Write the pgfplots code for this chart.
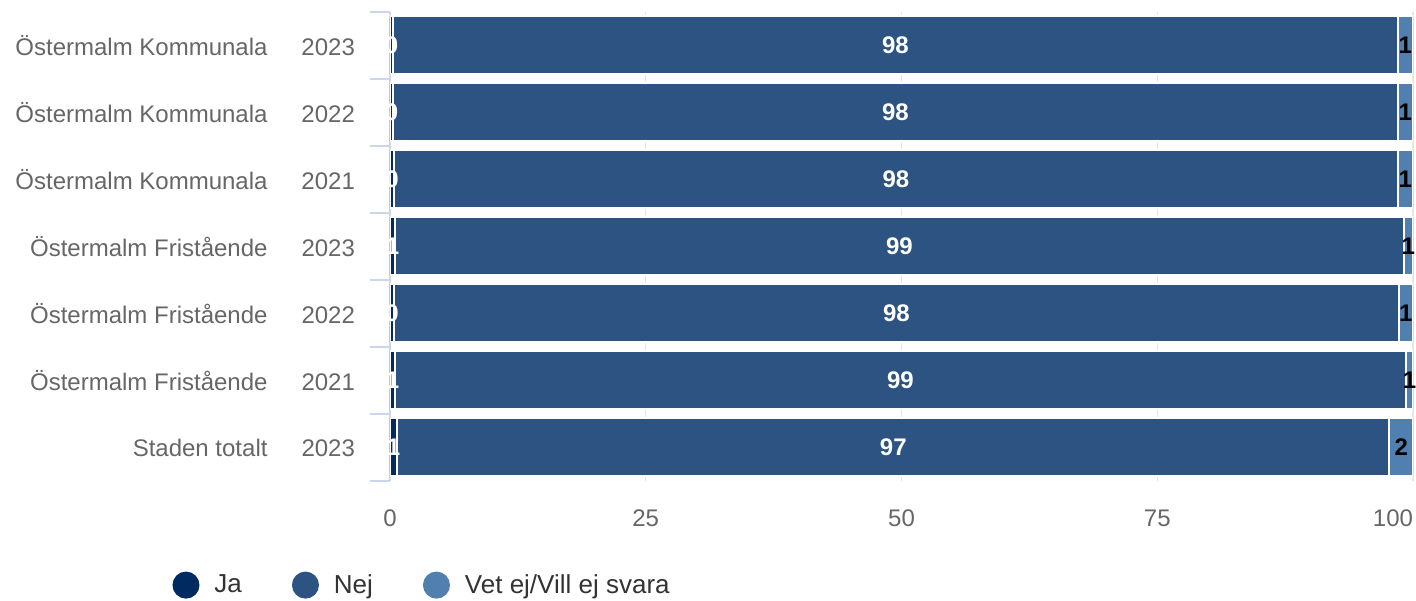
\documentclass[border=0pt]{standalone}
\usepackage{fontspec}
\setmainfont{Liberation Sans}
\usepackage{pgfplots}
\pgfplotsset{compat=1.18}
\usepackage{pgfplotstable}

\definecolor{ja}{RGB}{0,42,96}
\definecolor{nej}{RGB}{44,83,130}
\definecolor{vet}{RGB}{80,127,176}
\definecolor{tickgray}{RGB}{102,102,102}
\definecolor{legtext}{RGB}{51,51,51}
\definecolor{axisline}{RGB}{204,214,235}
\definecolor{gridgray}{RGB}{230,230,230}

% y: 6 = top row
\pgfplotstableread{
y ja nej vet lja lnej lvet
6 0.3 98.2 1.5 0 98 1
5 0.3 98.2 1.5 0 98 1
4 0.4 98.1 1.5 0 98 1
3 0.5 98.6 0.9 1 99 1
2 0.4 98.2 1.4 0 98 1
1 0.5 98.8 0.7 1 99 1
0 0.7 97.0 2.3 1 97 2
}\data

\pgfplotsset{
  base/.style={
    width=511.5pt, height=234.5pt, scale only axis,
    xmin=0, xmax=100, ymin=-0.5, ymax=6.5,
  },
  lbl/.style={draw=none, mark=none, nodes near coords, point meta=explicit symbolic,
    nodes near coords align={anchor=center},
    every node near coord/.append style={font=\fontsize{12}{14}\selectfont\bfseries,
      inner sep=0pt, text=#1}},
}

\begin{document}
\begin{tikzpicture}
\begin{axis}[
  base, name=ax,
  xbar stacked, bar width=29pt,
  axis y line*=left, axis x line*=bottom,
  x axis line style={draw=none},
  y axis line style={draw=axisline, line width=0.8pt},
  xtick={0,25,50,75},
  extra x ticks={100},
  extra x tick style={xticklabel style={xshift=-10pt}},
  xmajorgrids, grid style={gridgray, line width=0.6pt},
  ytick={0,...,6},
  yticklabels={
    Staden totalt\hspace{17pt}2023,
    Östermalm Fristående\hspace{17pt}2021,
    Östermalm Fristående\hspace{17pt}2022,
    Östermalm Fristående\hspace{17pt}2023,
    Östermalm Kommunala\hspace{17pt}2021,
    Östermalm Kommunala\hspace{17pt}2022,
    Östermalm Kommunala\hspace{17pt}2023},
  minor ytick={-0.5,0.5,...,6.5},
  tick align=outside, major tick length=0pt, minor tick length=10pt,
  minor tick style={axisline, line width=0.8pt},
  /pgf/number format/assume math mode=true,
  ticklabel style={font=\fontsize{12}{14}\selectfont, text=tickgray},
  yticklabel style={anchor=east, xshift=-14pt},
  xticklabel style={yshift=-11pt},
  legend style={draw=none, fill=none, at={(-0.213,-0.222)}, anchor=west,
    inner sep=0pt, font=\fontsize{13}{15}\selectfont, text=legtext,
    /tikz/every odd column/.append style={column sep=5.5pt},
    /tikz/every even column/.append style={column sep=23pt}},
  legend columns=3,
]
\addplot[fill=ja, draw=white, line width=1pt,
  legend image code/.code={\fill[ja] (6.25pt,0) circle (6.25pt);}]
  table[x=ja, y=y] {\data};
\addlegendentry{Ja}
\addplot[fill=nej, draw=white, line width=1pt,
  legend image code/.code={\fill[nej] (6.25pt,0) circle (6.25pt);}]
  table[x=nej, y=y] {\data};
\addlegendentry{Nej}
\addplot[fill=vet, draw=white, line width=1pt,
  legend image code/.code={\fill[vet] (6.25pt,0) circle (6.25pt);}]
  table[x=vet, y=y] {\data};
\addlegendentry{Vet ej/Vill ej svara}
\end{axis}

\begin{axis}[base, hide axis, clip=false]
\addplot[lbl=white] table[x expr=\thisrow{ja}/2, y=y, meta=lja] {\data};
\addplot[lbl=white] table[x expr=\thisrow{ja}+\thisrow{nej}/2, y=y, meta=lnej] {\data};
\addplot[lbl=black] table[x expr=\thisrow{ja}+\thisrow{nej}+\thisrow{vet}/2, y=y, meta=lvet] {\data};
\end{axis}

\pgfresetboundingbox
\path ([xshift=-195pt,yshift=-60pt]ax.south west) rectangle ([xshift=1.5pt,yshift=6pt]ax.north east);
\end{tikzpicture}
\end{document}
